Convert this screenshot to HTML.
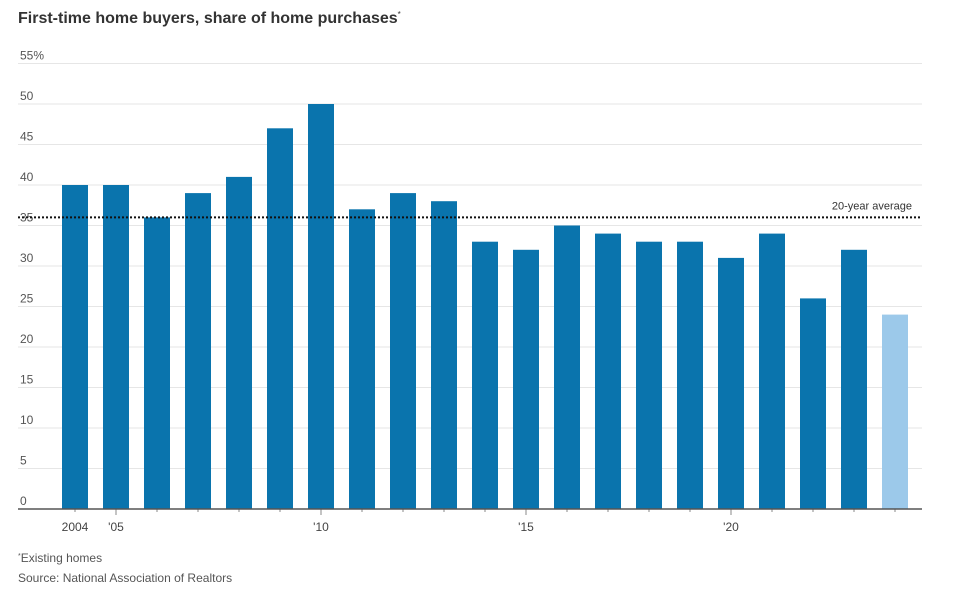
<!DOCTYPE html>
<html><head><meta charset="utf-8"><style>
body{margin:0;background:#fff;font-family:"Liberation Sans",sans-serif}
svg text{font-family:"Liberation Sans",sans-serif}
</style></head><body>
<svg id="c" width="959" height="598">
<text x="18" y="23" font-size="16" font-weight="bold" fill="#333">First-time home buyers, share of home purchases<tspan font-size="8" dy="-6" font-weight="normal">*</tspan></text>
<g id="grid"></g><g id="bars"></g><g id="xax"></g>
<text x="18" y="562" font-size="12" fill="#555"><tspan font-size="7" dy="-4">*</tspan><tspan dy="4">Existing homes</tspan></text>
<text x="18" y="582" font-size="12" fill="#555">Source: National Association of Realtors</text>
</svg>
<script>
const years=[2004,2005,2006,2007,2008,2009,2010,2011,2012,2013,2014,2015,2016,2017,2018,2019,2020,2021,2022,2023,2024];
const shares=[40,40,36,39,41,47,50,37,39,38,33,32,35,34,33,33,31,34,26,32,24];
const yTicks=[0,5,10,15,20,25,30,35,40,45,50,55];
const yTickLabels=["0","5","10","15","20","25","30","35","40","45","50","55%"];
const xLabelYears=[2004,2005,2010,2015,2020];
const xLabels=["2004","'05","'10","'15","'20"];
const average=[36];
const NS="http://www.w3.org/2000/svg";
const y=v=>509-v*8.1;
const x=yr=>75+(yr-2004)*41;
function mk(t,a,p){const e=document.createElementNS(NS,t);for(const k in a)e.setAttribute(k,a[k]);p.appendChild(e);return e;}
const grid=document.getElementById('grid'),bars=document.getElementById('bars'),xax=document.getElementById('xax');
yTicks.forEach((v,i)=>{
 if(v>0){const l=mk('line',{x1:18,x2:922,y1:y(v),y2:y(v),stroke:'#e6e6e6','stroke-width':1},grid);
 
 }
 const t=mk('text',{x:20,y:y(v)-4,'font-size':12,fill:'#555'},grid);t.textContent=yTickLabels[i];
 
 
});
years.forEach((yr,i)=>{
 const r=mk('rect',{x:x(yr)-13,y:y(shares[i]),width:26,height:y(0)-y(shares[i]),fill:yr===2024?'#9cc9ea':'#0a74ad'},bars);
 
 
 const tk=mk('line',{x1:x(yr),x2:x(yr),y1:509,y2:yr%5===0?515:512,stroke:'#888'},xax);
 
 
});
const ax=mk('line',{x1:18,x2:922,y1:509,y2:509,stroke:'#555','stroke-width':1.5},xax);


xLabelYears.forEach((yr,i)=>{const t=mk('text',{x:x(yr),y:531,'font-size':12,fill:'#444','text-anchor':'middle'},xax);t.textContent=xLabels[i];
 
 });
const av=mk('line',{x1:18,x2:922,y1:y(average[0]),y2:y(average[0]),stroke:'#111','stroke-width':2,'stroke-dasharray':'2,2'},bars);


const at=mk('text',{x:912,y:y(average[0])-8,'font-size':11,fill:'#333','text-anchor':'end'},bars);at.textContent='20-year average';


</script>
</body></html>
